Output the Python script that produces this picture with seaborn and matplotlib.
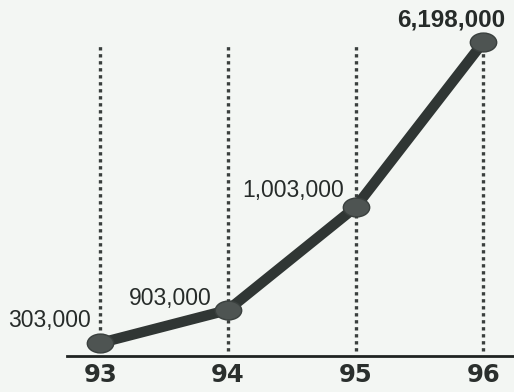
import matplotlib
matplotlib.use("Agg")
import matplotlib.pyplot as plt
import seaborn as sns
import pandas as pd
import numpy as np
from matplotlib.path import Path

# ---- data ----
years = ["93", "94", "95", "96"]
value_labels = ["303,000", "903,000", "1,003,000", "6,198,000"]
# heights of the drawn points (chart is not to scale)
drawn_height = [13, 46, 149, 314]

df = pd.DataFrame({"year": years, "height": drawn_height, "label": value_labels})
df["pos"] = np.arange(len(df))

sns.set_theme(style="white")
plt.rcParams["font.family"] = ["Liberation Sans", "DejaVu Sans"]

bg = "#f3f6f3"
fig = plt.figure(figsize=(5.14, 3.92), dpi=100, facecolor=bg)
ax = fig.add_axes([67 / 514, 36 / 392, 1 - 67 / 514, 1 - 36 / 392])
ax.set_facecolor(bg)

# dotted vertical guide lines
for p in df["pos"]:
    ax.plot([p, p], [5, 313], color="#3a3f3d", lw=2.4, ls=(0, (1, 1.1)), zorder=1)

# ellipse marker
circ = Path.unit_circle()
ell = Path(circ.vertices * np.array([1.4, 1.0]), circ.codes)

sns.lineplot(data=df, x="pos", y="height", ax=ax, color="#303634", lw=7.5,
             marker=ell, markersize=19, markerfacecolor="#4e5452",
             markeredgecolor="#3a403e", markeredgewidth=1, zorder=3, legend=False)

ax.set_xlim(-0.26, 3.24)
ax.set_ylim(0, 356)
ax.set_xticks(df["pos"])
ax.set_xticklabels(years, fontsize=17.5, fontweight="bold", color="#2a2f2d",
                   family=["DejaVu Sans"])
ax.tick_params(axis="x", length=0, pad=5)
ax.set_yticks([])
ax.set_xlabel("")
ax.set_ylabel("")
for s in ["top", "right", "left"]:
    ax.spines[s].set_visible(False)
ax.spines["bottom"].set_color("#1f2422")
ax.spines["bottom"].set_linewidth(2)

# value labels
tc = "#262b29"
ax.text(df.pos[0] - 0.07, df.height[0] + 22, value_labels[0], ha="right", va="center",
        fontsize=16.5, color=tc)
ax.text(df.pos[1] - 0.13, df.height[1] + 12, value_labels[1], ha="right", va="center",
        fontsize=16.5, color=tc)
ax.text(df.pos[2] - 0.09, df.height[2] + 16, value_labels[2], ha="right", va="center",
        fontsize=16.5, color=tc)
ax.text(df.pos[3] - 0.25, df.height[3] + 22, value_labels[3], ha="center", va="center",
        fontsize=17.5, fontweight="bold", color=tc)

fig.savefig("out.png", dpi=100, facecolor=bg)
